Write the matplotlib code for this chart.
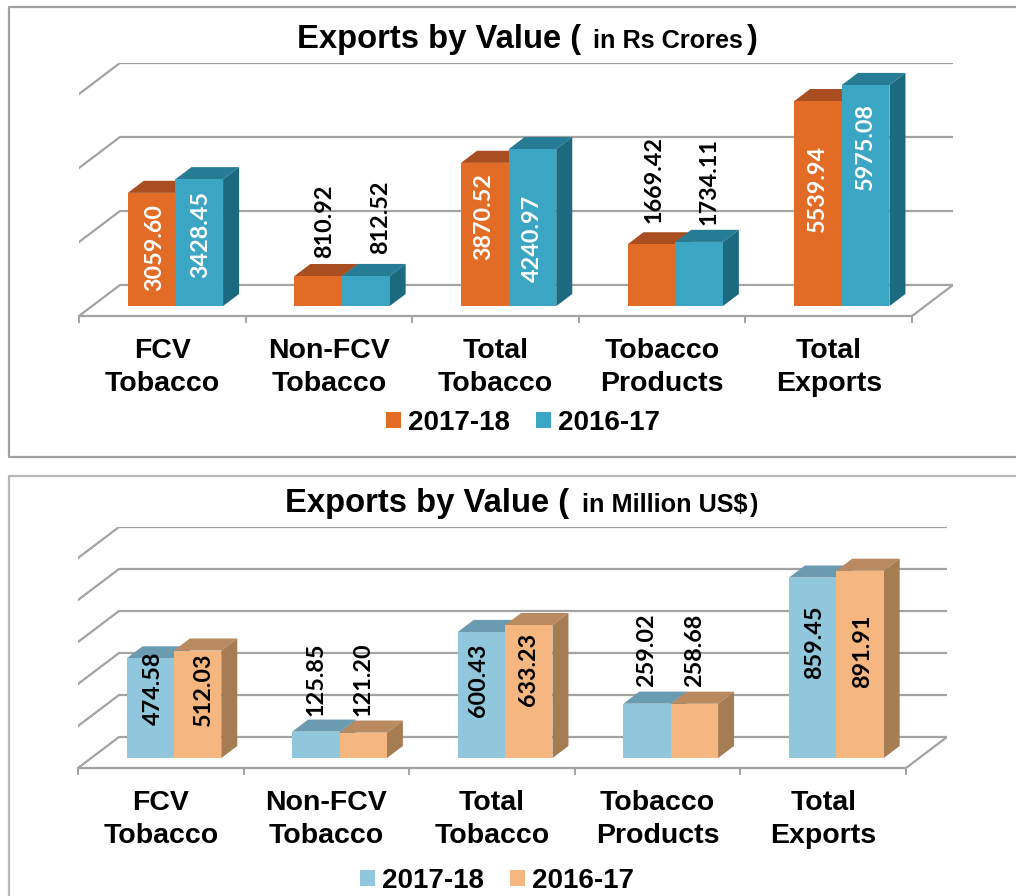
import matplotlib
matplotlib.use('Agg')
import matplotlib.pyplot as plt
from matplotlib.patches import Patch, Rectangle

W, H = 1016, 896

categories = ['FCV\nTobacco', 'Non-FCV\nTobacco', 'Total\nTobacco', 'Tobacco\nProducts', 'Total\nExports']

rs_2017 = [3059.60, 810.92, 3870.52, 1669.42, 5539.94]
rs_2016 = [3428.45, 812.52, 4240.97, 1734.11, 5975.08]
rs_ticks = [0, 2000, 4000, 6000]

usd_2017 = [474.58, 125.85, 600.43, 259.02, 859.45]
usd_2016 = [512.03, 121.20, 633.23, 258.68, 891.91]
usd_ticks = [0, 200, 400, 600, 800, 1000]

series_names = ['2017-18', '2016-17']

plt.rcParams['font.family'] = ['Liberation Sans', 'DejaVu Sans']

fig = plt.figure(figsize=(W / 100, H / 100), dpi=100)

# full figure overlay in pixel coords, for panel frames and titles
bg = fig.add_axes([0, 0, 1, 1])
bg.set_xlim(0, W)
bg.set_ylim(H, 0)
bg.axis('off')


def shade(ax, x0, x1, v, dep0, dep1, dx, dy, top_col, side_col):
    # top and side faces of a bar, slid back along the depth direction
    ax.fill([x0 + dep0 * dx, x1 + dep0 * dx, x1 + dep1 * dx, x0 + dep1 * dx],
            [v + dep0 * dy, v + dep0 * dy, v + dep1 * dy, v + dep1 * dy],
            color=top_col, lw=0, zorder=3)
    ax.fill([x1 + dep0 * dx, x1 + dep1 * dx, x1 + dep1 * dx, x1 + dep0 * dx],
            [dep0 * dy, dep1 * dy, v + dep1 * dy, v + dep0 * dy],
            color=side_col, lw=0, zorder=3)


def panel(left, floor, cat_px, px_per_unit, ticks, vals_a, vals_b, cols_a, cols_b,
          shift_a, shift_b, nudge_a, nudge_b, inside_col, legend_y, legend_x):
    depth_x, depth_y = 41, 31
    top_px = floor - depth_y - ticks[-1] * px_per_unit
    w_px = 5 * cat_px + depth_x
    ax = fig.add_axes([left / W, 1 - floor / H, w_px / W, (floor - top_px) / H])
    dx = depth_x / cat_px
    dy = depth_y / px_per_unit
    ax.set_xlim(0, 5 + dx)
    ax.set_ylim(0, ticks[-1] + dy)
    ax.patch.set_alpha(0)

    grid = '#a3a3a3'
    for t in ticks:
        ax.plot([0, dx, 5 + dx], [t, t + dy, t + dy], color=grid, lw=1.6, zorder=1)
    ax.plot([5, 5 + dx], [0, dy], color=grid, lw=1.6, zorder=1)

    for s in ['top', 'left', 'right']:
        ax.spines[s].set_visible(False)
    ax.spines['bottom'].set_bounds(0, 5)
    ax.spines['bottom'].set_color(grid)
    ax.spines['bottom'].set_linewidth(1.6)
    ax.set_yticks([])
    ax.set_xticks(range(6))
    ax.set_xticklabels([])
    ax.set_xticks([i + 0.5 for i in range(5)], categories, minor=True)
    ax.tick_params(axis='x', which='major', length=5, width=1.4, color=grid)
    ax.tick_params(axis='x', which='minor', length=0, pad=15.5, labelsize=20.5)
    for lab in ax.get_xticklabels(minor=True):
        lab.set_fontweight('bold')
        lab.set_linespacing(1.36)

    bar_w = 0.286
    dep0, dep1 = 0.32, 0.71
    for i in range(5):
        c = i + 0.5 - bar_w
        for j, (v, cols, sh, nd) in enumerate([(vals_a[i], cols_a, shift_a[i], nudge_a[i]),
                                               (vals_b[i], cols_b, shift_b[i], nudge_b[i])]):
            x0 = c + j * bar_w
            shade(ax, x0, x0 + bar_w, v, dep0, dep1, dx, dy, cols[1], cols[2])
            ax.add_patch(Rectangle((x0 + dep0 * dx, dep0 * dy), bar_w, v,
                                   facecolor=cols[0], lw=0, zorder=4))
            bar_h = v * px_per_unit
            col = inside_col if sh < bar_h else 'black'
            ax.text(x0 + bar_w / 2 + dep0 * dx + nd / cat_px, dep0 * dy + sh / px_per_unit,
                    f'{v:.2f}', rotation=90, ha='center', va='center', color=col,
                    family=['Lato', 'DejaVu Sans'], fontweight='bold', fontsize=16.8, zorder=5)

    handles = [Patch(facecolor=cols_a[0]), Patch(facecolor=cols_b[0])]
    fig.legend(handles, series_names, loc='center', ncol=2, frameon=False,
               bbox_to_anchor=(legend_x / W, 1 - legend_y / H),
               prop={'weight': 'bold', 'size': 20}, handlelength=0.54, handleheight=0.54,
               handletextpad=0.25, columnspacing=0.94, borderpad=0)
    return ax


def title(x0, base, small, x_small, x_close, close_size):
    bg.text(x0, base, 'Exports by Value (', ha='left', va='baseline', fontweight='bold', fontsize=23.6)
    bg.text(x_small, base, small, ha='left', va='baseline', fontweight='bold', fontsize=18.2)
    bg.text(x_close, base, ')', ha='left', va='baseline', fontweight='bold', fontsize=close_size)


# panel frames
bg.plot([W, 9, 9, W], [7, 7, 457, 457], color='#a0a0a0', lw=1.6)
bg.plot([W, 9, 9], [476, 476, H], color='#b8b8b8', lw=1.6)

title(297, 48, 'in Rs Crores', 593, 747, 23.6)
title(285, 512, 'in Million US$', 582, 750, 18.2)

orange = ['#e26b25', '#a94e20', '#9a4a1e']
blue = ['#3ba6c4', '#267c94', '#1b6a80']
lblue = ['#90c7dc', '#6a9bb0', '#5f8fa3']
peach = ['#f5b680', '#b98a60', '#a67c52']

panel(79, 316, 166.6, 0.037, rs_ticks, rs_2017, rs_2016, orange, blue,
      [59, 85, 90, 127, 118], [72, 89, 68, 125, 160],
      [3, 6, -1, 3, -1], [2, 15, 0, 10, 0], 'white', 423, 523)
panel(78, 768, 165.6, 0.21, usd_ticks, usd_2017, usd_2016, lblue, peach,
      [70, 79, 78, 108, 116], [69, 79, 89, 108, 107],
      [3, 0, -3, 0, 2], [6, 0, 0, 0, 3], 'black', 881, 497)

fig.savefig('out.png', dpi=100)
